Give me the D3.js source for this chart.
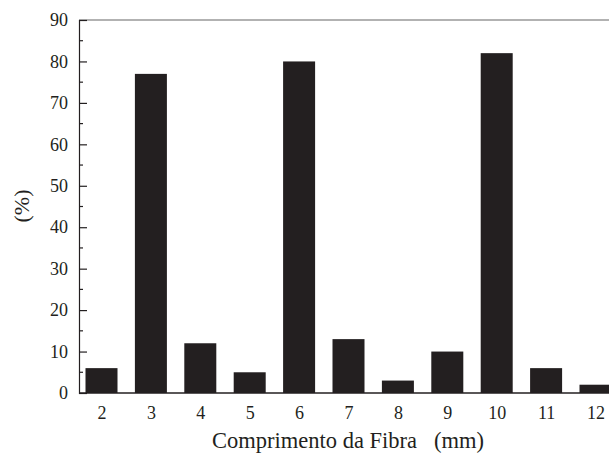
<!DOCTYPE html>
<html>
<head>
<meta charset="utf-8">
<script src="https://cdn.jsdelivr.net/npm/d3@7"></script>
<style>
  body { margin: 0; background: #fff; }
  text { font-family: "Liberation Serif", "Times New Roman", serif; fill: #231f20; }
</style>
</head>
<body>
<div class="canvas"></div>
<script>
// data
const lengths = [2, 3, 4, 5, 6, 7, 8, 9, 10, 11, 12];
const percents = [6, 77, 12, 5, 80, 13, 3, 10, 82, 6, 2];
const yTicks = [0, 10, 20, 30, 40, 50, 60, 70, 80, 90];
const yMinorTicks = [5, 15, 25, 35, 45, 55, 65, 75, 85];

const width = 609, height = 454;
const svg = d3.select('.canvas')
  .append('svg')
    .attr('width', width)
    .attr('height', height);

// plot edges (window.top is taken, so use other names)
const plotLeft = 79, plotTop = 20, plotBottom = 393;

// scales
const x = d3.scaleLinear().domain([2, 12]).range([101.5, 595.5]);
const y = d3.scaleLinear().domain([0, 90]).range([plotBottom, plotTop]);
const barWidth = 32;

// bars
svg.append('g')
  .selectAll('rect')
  .data(lengths)
  .enter()
  .append('rect')
    .attr('x', (d, i) => x(d) - barWidth / 2)
    .attr('y', (d, i) => y(percents[i]))
    .attr('width', barWidth)
    .attr('height', (d, i) => plotBottom - y(percents[i]))
    .attr('fill', '#231f20');

// top frame line
svg.append('line')
  .attr('x1', plotLeft).attr('x2', width)
  .attr('y1', plotTop).attr('y2', plotTop)
  .attr('stroke', '#666').attr('stroke-width', 1.2);

// y axis, ticks pointing inwards
const yAxis = d3.axisLeft(y).tickValues(yTicks).tickSize(-8).tickPadding(11);
const yAxisGroup = svg.append('g')
  .attr('transform', `translate(${plotLeft},0)`)
  .call(yAxis);
yAxisGroup.select('.domain').attr('stroke', '#231f20').attr('stroke-width', 1.2);
yAxisGroup.selectAll('.tick line').attr('stroke', '#231f20').attr('stroke-width', 1.2);
yAxisGroup.selectAll('text').attr('font-size', 18).attr('fill', '#231f20')
  .attr('font-family', '"Liberation Serif", serif');

// minor ticks
svg.append('g')
  .selectAll('line')
  .data(yMinorTicks)
  .enter()
  .append('line')
    .attr('x1', plotLeft).attr('x2', plotLeft + 4)
    .attr('y1', d => y(d)).attr('y2', d => y(d))
    .attr('stroke', '#231f20').attr('stroke-width', 1.2);

// x axis, no tick marks
const xAxis = d3.axisBottom(x).tickValues(lengths).tickSize(0).tickPadding(13);
const xAxisGroup = svg.append('g')
  .attr('transform', `translate(0,${plotBottom})`)
  .call(xAxis);
xAxisGroup.select('.domain').remove();
xAxisGroup.selectAll('text').attr('font-size', 18).attr('fill', '#231f20')
  .attr('font-family', '"Liberation Serif", serif');
svg.append('line')
  .attr('x1', plotLeft).attr('x2', width)
  .attr('y1', plotBottom).attr('y2', plotBottom)
  .attr('stroke', '#231f20').attr('stroke-width', 1.4);

// axis titles
svg.append('text')
  .attr('x', 348).attr('y', 448)
  .attr('text-anchor', 'middle')
  .attr('font-size', 22.5)
  .attr('xml:space', 'preserve')
  .text('Comprimento da Fibra   (mm)');

svg.append('text')
  .attr('transform', 'translate(29,206) rotate(-90)')
  .attr('text-anchor', 'middle')
  .attr('font-size', 22)
  .text('(%)');
</script>
</body>
</html>
